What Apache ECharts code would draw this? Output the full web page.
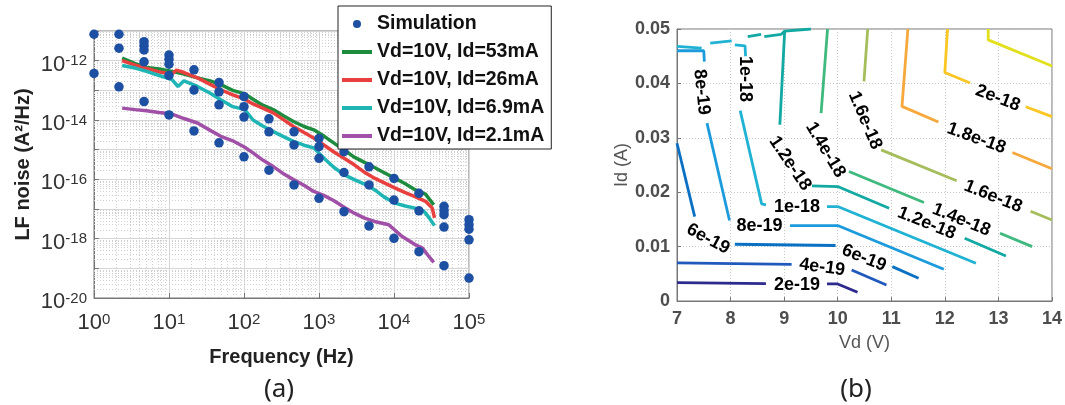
<!DOCTYPE html>
<html>
<head>
<meta charset="utf-8">
<script src="https://cdn.jsdelivr.net/npm/echarts@6/dist/echarts.min.js"></script>
<style>
html, body { margin: 0; padding: 0; background: #fff; }
#main { width: 1065px; height: 405px; }
</style>
</head>
<body>
<div id="main"></div>
<script>
var myChart = echarts.init(document.getElementById('main'));

// ---- (a) LF noise spectra, x = log10(f / Hz), y = log10(S / A^2/Hz)
var simFreqExp = [0, 0.333, 0.667, 1, 1.333, 1.667, 2, 2.333, 2.667, 3, 3.333, 3.667, 4, 4.333, 4.667, 5];
var simNoiseExp = [
  [-11.11, -12.43],
  [-11.11, -11.58, -12.88],
  [-11.36, -11.50, -11.64, -12.04, -13.38],
  [-11.81, -11.95, -12.12, -12.50, -13.83],
  [-12.31, -12.99, -14.37],
  [-12.74, -13.05, -13.49, -14.77],
  [-13.21, -13.55, -13.90, -15.24],
  [-13.96, -14.40, -15.69],
  [-14.40, -14.84, -16.19],
  [-14.62, -14.90, -15.29, -16.64],
  [-15.07, -15.77, -17.09],
  [-15.58, -16.19, -17.57],
  [-15.97, -16.70, -17.99],
  [-16.47, -17.06, -18.44],
  [-16.91, -17.05, -17.19, -17.61, -18.91],
  [-17.36, -17.53, -17.68, -18.04, -19.33]
];

var meas53 = [[0.375,-11.91],[0.55,-12.10],[0.70,-12.23],[0.87,-12.28],[1.04,-12.36],[1.2,-12.45],[1.38,-12.58],[1.55,-12.68],[1.69,-12.81],[1.85,-13.00],[2.01,-13.12],[2.12,-13.30],[2.25,-13.50],[2.39,-13.65],[2.52,-13.85],[2.66,-14.05],[2.80,-14.22],[2.93,-14.33],[3.07,-14.55],[3.20,-14.78],[3.34,-15.02],[3.47,-15.25],[3.60,-15.42],[3.74,-15.60],[3.87,-15.78],[4.01,-15.96],[4.15,-16.15],[4.28,-16.35],[4.42,-16.50],[4.53,-16.86]];
var meas26 = [[0.375,-12.00],[0.55,-12.15],[0.70,-12.26],[0.87,-12.38],[1.04,-12.45],[1.1,-12.32],[1.2,-12.40],[1.38,-12.58],[1.55,-12.80],[1.69,-12.98],[1.85,-13.15],[2.01,-13.30],[2.12,-13.46],[2.25,-13.60],[2.39,-13.76],[2.52,-13.98],[2.66,-14.22],[2.80,-14.42],[2.93,-14.61],[3.07,-14.85],[3.20,-15.08],[3.34,-15.30],[3.47,-15.51],[3.60,-15.75],[3.74,-15.96],[3.87,-16.12],[4.01,-16.29],[4.15,-16.45],[4.28,-16.58],[4.42,-16.74],[4.51,-16.97],[4.54,-17.30]];
var meas69 = [[0.375,-12.16],[0.55,-12.25],[0.70,-12.36],[0.87,-12.50],[1.04,-12.64],[1.12,-12.87],[1.2,-12.68],[1.38,-12.87],[1.55,-13.10],[1.69,-13.32],[1.85,-13.55],[2.01,-13.65],[2.12,-14.00],[2.25,-14.20],[2.39,-14.39],[2.52,-14.55],[2.66,-14.72],[2.80,-14.85],[2.93,-14.94],[3.07,-15.30],[3.20,-15.60],[3.34,-15.85],[3.47,-16.01],[3.60,-16.15],[3.74,-16.35],[3.87,-16.60],[4.01,-16.80],[4.15,-16.90],[4.28,-16.97],[4.40,-17.08],[4.47,-17.30],[4.54,-17.56]];
var meas21 = [[0.375,-13.60],[0.55,-13.65],[0.70,-13.69],[0.87,-13.75],[1.04,-13.80],[1.2,-13.95],[1.38,-14.10],[1.55,-14.35],[1.69,-14.55],[1.85,-14.70],[2.01,-14.92],[2.12,-15.11],[2.25,-15.35],[2.39,-15.57],[2.52,-15.80],[2.66,-16.01],[2.80,-16.20],[2.93,-16.41],[3.07,-16.55],[3.20,-16.72],[3.34,-16.95],[3.47,-17.14],[3.60,-17.30],[3.74,-17.42],[3.93,-17.53],[4.11,-17.93],[4.28,-18.20],[4.38,-18.32],[4.45,-18.55],[4.53,-18.80]];

var lineNames = ['Vd=10V, Id=53mA', 'Vd=10V, Id=26mA', 'Vd=10V, Id=6.9mA', 'Vd=10V, Id=2.1mA'];
var lineColors = ['#1e8c3e', '#e8403f', '#1fb5b5', '#a050a6'];
var lineData = [meas53, meas26, meas69, meas21];

// ---- (b) contour lines of noise over (Vd [V], Id [A]); each level is a list of segments
var c2e19 = [[[7,0.00337],[8.66,0.00319]], [[9.80,0.00313],[10.0,0.00313],[10.37,0.0016]]];
var c4e19 = [[[7,0.0070],[9.14,0.00675]], [[10.26,0.00571],[10.91,0.00294]]];
var c6e19 = [[[7,0.0290],[7.33,0.01552]], [[8.08,0.01043],[9.96,0.0102]], [[11.02,0.00632],[11.51,0.00417]]];
var c8e19 = [[[7,0.0460],[7.50,0.0460],[7.51,0.0440]], [[7.56,0.0327],[7.98,0.01479]], [[9.11,0.01387],[10.0,0.01387],[11.98,0.00583]]];
var c1e18 = [[[7,0.0468],[7.46,0.0465]], [[7.62,0.0474],[8.02,0.0478]], [[8.08,0.0471],[8.27,0.0469],[8.28,0.0450]],
             [[8.18,0.0350],[8.58,0.01785],[8.66,0.01767]], [[9.80,0.01736],[10.0,0.01736],[12.58,0.00693]]];
var c12e18 = [[[8.32,0.0486],[8.57,0.0490]], [[8.63,0.0486],[8.94,0.0490],[9.01,0.0496],[9.50,0.0500]], [[9.01,0.0496],[8.92,0.0324]],
              [[9.52,0.02117],[10.0,0.02104],[10.96,0.01706]], [[12.37,0.01153],[13.14,0.00828]]];
var c14e18 = [[[9.81,0.0500],[9.69,0.03454]], [[10.21,0.0238],[11.61,0.0181]], [[13.03,0.01245],[13.63,0.0100]]];
var c16e18 = [[[10.56,0.0500],[10.49,0.04037]], [[10.81,0.02778],[12.22,0.0221]], [[13.60,0.0165],[14.0,0.0149]]];
var c18e18 = [[[11.31,0.0500],[11.20,0.03577],[11.88,0.0329]], [[13.26,0.0273],[14.0,0.0243]]];
var c2e18 = [[[12.05,0.0500],[12.00,0.0420],[12.47,0.04006]], [[13.51,0.0357],[14.0,0.0339]]];
var c22e18 = [[[12.81,0.0500],[12.81,0.0480],[14.0,0.0432]]];

var contourLevels = [c2e19, c4e19, c6e19, c8e19, c1e18, c12e18, c14e18, c16e18, c18e18, c2e18, c22e18];
var contourColors = ['#2c2a8c', '#2058bb', '#0a70c4', '#1c9bdc', '#1fb2d2', '#12a9a2', '#3fb97e', '#a5bd5a', '#f7a83c', '#f9c622', '#e2e01c'];

// [Vd, Id, text, rotation]
var contourLabels = [
  [9.24, 0.0029, '2e-19', 0],
  [9.71, 0.0062, '4e-19', -8],
  [7.58, 0.0114, '6e-19', -28],
  [10.49, 0.0079, '6e-19', -22],
  [7.46, 0.0384, '8e-19', -84],
  [8.54, 0.0138, '8e-19', 0],
  [8.265, 0.0408, '1e-18', -90],
  [9.24, 0.0172, '1e-18', 0],
  [9.11, 0.0253, '1.2e-18', -56],
  [11.66, 0.0143, '1.2e-18', -22],
  [9.77, 0.0278, '1.4e-18', -59],
  [12.31, 0.0149, '1.4e-18', -22],
  [10.51, 0.0332, '1.6e-18', -67],
  [12.90, 0.0192, '1.6e-18', -22],
  [12.59, 0.0299, '1.8e-18', -20],
  [12.99, 0.0373, '2e-18', -21]
];

// log-style minor grid positions for (a)
var minorX = [], minorY = [];
for (var n = 0; n < 5; n++) for (var k = 2; k <= 9; k++) minorX.push(n + Math.log10(k));
for (var m = -20; m < -11; m++) for (var j = 2; j <= 9; j++) minorY.push(m + Math.log10(j));

var FONT = 'Liberation Sans';
var powRich = {
  b: { fontSize: 22, lineHeight: 22, padding: [8, 0, 0, 0], color: '#333', fontFamily: FONT },
  s: { fontSize: 15, lineHeight: 15, padding: [4, 0, 0, 0], verticalAlign: 'top', color: '#333', fontFamily: FONT }
};
function pow10(v) { return '{b|10}{s|' + Math.round(v) + '}'; }

var simData = [];
simFreqExp.forEach(function (fx, i) {
  simNoiseExp[i].forEach(function (ny) { simData.push([fx, ny]); });
});

var series = [];
series.push({
  type: 'line', xAxisIndex: 0, yAxisIndex: 0, data: [], silent: true, z: 1,
  markLine: {
    silent: true, z: 1, symbol: ['none', 'none'], label: { show: false }, animation: false,
    lineStyle: { type: [1, 2], color: '#d0d0d0', width: 1 },
    data: minorX.map(function (v) { return { xAxis: v }; }).concat(minorY.map(function (v) { return { yAxis: v }; }))
  }
});
lineData.forEach(function (d, i) {
  series.push({
    name: lineNames[i], type: 'line', xAxisIndex: 0, yAxisIndex: 0, data: d,
    showSymbol: false, symbol: 'none', lineStyle: { width: 3.5, color: lineColors[i] },
    itemStyle: { color: lineColors[i] }, z: 3
  });
});
series.push({
  name: 'Simulation', type: 'scatter', xAxisIndex: 0, yAxisIndex: 0, data: simData,
  symbol: 'circle', symbolSize: 9.5, itemStyle: { color: '#1d4fa3', opacity: 1 }, z: 4
});

contourLevels.forEach(function (segs, i) {
  segs.forEach(function (seg) {
    series.push({
      type: 'line', xAxisIndex: 1, yAxisIndex: 1, data: seg, silent: true,
      showSymbol: false, symbol: 'none', lineStyle: { width: 2.8, color: contourColors[i] }, z: 3
    });
  });
});
series.push({
  type: 'scatter', xAxisIndex: 1, yAxisIndex: 1, silent: true, symbolSize: 1,
  itemStyle: { color: 'rgba(0,0,0,0)', opacity: 1 }, z: 5,
  data: contourLabels.map(function (l) {
    return { value: [l[0], l[1]], label: { rotate: l[3], formatter: l[2] } };
  }),
  label: { show: true, position: 'inside', color: '#000', fontSize: 18, fontWeight: 'bold', fontFamily: FONT }
});

var option = {
  animation: false,
  backgroundColor: '#fff',
  grid: [
    { left: 94, top: 31, width: 375, height: 267, show: true, borderColor: '#777', borderWidth: 1 },
    { left: 677, top: 29, width: 378, height: 272, show: true, borderColor: '#777', borderWidth: 1 }
  ],
  legend: {
    data: ['Simulation'].concat(lineNames).map(function (nm, i) {
      return i === 0 ? { name: nm, icon: 'circle' } : { name: nm, icon: 'path://M0,0 H30 V4 H0 Z' };
    }),
    orient: 'vertical', left: 338, top: 6, itemWidth: 30, itemHeight: 8, itemGap: 8, z: 10,
    padding: [8, 7, 3, 4], backgroundColor: '#fff', borderColor: '#222', borderWidth: 1,
    selectedMode: false,
    textStyle: { fontSize: 19.5, lineHeight: 20, fontWeight: 'bold', color: '#111', fontFamily: FONT }
  },
  xAxis: [
    {
      gridIndex: 0, type: 'value', min: 0, max: 5, interval: 1,
      name: 'Frequency (Hz)', nameLocation: 'middle', nameGap: 49,
      nameTextStyle: { fontSize: 20, fontWeight: 'bold', color: '#222', fontFamily: FONT },
      axisLine: { lineStyle: { color: '#777' } },
      axisTick: { inside: true, length: 5, lineStyle: { color: '#777' } },
      axisLabel: { margin: 10, formatter: pow10, rich: powRich },
      splitLine: { lineStyle: { color: '#d6d6d6' } }
    },
    {
      gridIndex: 1, type: 'value', min: 7, max: 14, interval: 1,
      name: 'Vd (V)', nameLocation: 'middle', nameGap: 33,
      nameTextStyle: { fontSize: 18, color: '#555', fontFamily: FONT },
      axisLine: { lineStyle: { color: '#777' } },
      axisTick: { inside: true, length: 4, lineStyle: { color: '#777' } },
      axisLabel: { margin: 9, fontSize: 18, fontWeight: 'bold', color: '#4d4d4d', fontFamily: FONT },
      splitLine: { lineStyle: { type: [1, 2], color: '#c8c8c8' } }
    }
  ],
  yAxis: [
    {
      gridIndex: 0, type: 'value', min: -20, max: -11, interval: 1,
      name: 'LF noise (A\u00b2/Hz)', nameLocation: 'middle', nameGap: 61,
      nameTextStyle: { fontSize: 20, fontWeight: 'bold', color: '#222', fontFamily: FONT },
      axisLine: { lineStyle: { color: '#777' } },
      axisTick: { inside: true, length: 5, lineStyle: { color: '#777' } },
      axisLabel: {
        margin: 7, rich: powRich,
        formatter: function (v) {
          var e = Math.round(v);
          return (e % 2 === 0 && e <= -12) ? pow10(e) : '';
        }
      },
      splitLine: { lineStyle: { color: '#d6d6d6' } }
    },
    {
      gridIndex: 1, type: 'value', min: 0, max: 0.05, interval: 0.01,
      name: 'Id (A)', nameLocation: 'middle', nameGap: 45,
      nameTextStyle: { fontSize: 18, color: '#555', fontFamily: FONT },
      axisLine: { lineStyle: { color: '#777' } },
      axisTick: { inside: true, length: 4, lineStyle: { color: '#777' } },
      axisLabel: { margin: 7, fontSize: 18, fontWeight: 'bold', color: '#4d4d4d', fontFamily: FONT },
      splitLine: { lineStyle: { type: [1, 2], color: '#c8c8c8' } }
    }
  ],
  graphic: [
    { type: 'text', x: 279, y: 390, style: { text: '(a)', align: 'center', verticalAlign: 'middle', textAlign: 'center', textVerticalAlign: 'middle', font: '26px "Noto Sans"', fill: '#222' } },
    { type: 'text', x: 856, y: 390, style: { text: '(b)', align: 'center', verticalAlign: 'middle', textAlign: 'center', textVerticalAlign: 'middle', font: '26px "Noto Sans"', fill: '#222' } }
  ],
  series: series
};

myChart.setOption(option);
</script>
</body>
</html>
